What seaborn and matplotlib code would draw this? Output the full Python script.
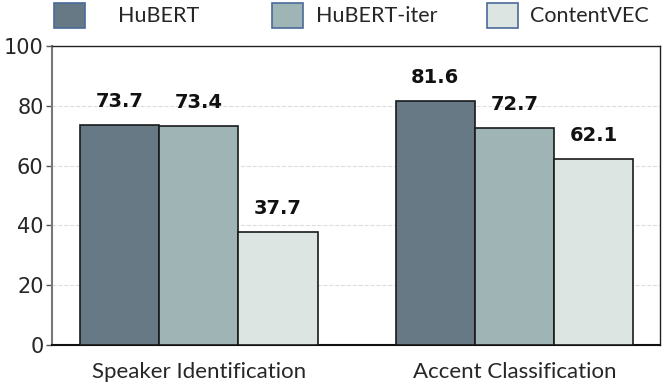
import pandas as pd
import seaborn as sns
import matplotlib.pyplot as plt
from matplotlib.patches import Patch

# chart values
tasks = ['Speaker Identification', 'Accent Classification']
models = ['HuBERT', 'HuBERT-iter', 'ContentVEC']
hubert = [73.7, 81.6]
hubert_iter = [73.4, 72.7]
contentvec = [37.7, 62.1]
colors = ['#667985', '#9fb5b5', '#dde5e3']

rows = []
for m, vals in zip(models, [hubert, hubert_iter, contentvec]):
    for t, v in zip(tasks, vals):
        rows.append({'task': t, 'model': m, 'score': v})
df = pd.DataFrame(rows)

sns.set_style('white')
fig = plt.figure(figsize=(6.65, 3.86), dpi=100)
ax = fig.add_axes([0.078, 0.106, 0.914, 0.775])

sns.barplot(data=df, x='task', y='score', hue='model', hue_order=models,
            palette=colors, width=0.753, edgecolor='#1a1a1a', linewidth=1.2,
            saturation=1, ax=ax, legend=False, zorder=3)

for container in ax.containers:
    ax.bar_label(container, fmt='%.1f', padding=10, fontsize=14,
                 fontweight='bold', color='#111111')

ax.set_ylim(0, 100)
ax.set_xlim(-0.465, 1.46)
ax.set_yticks([0, 20, 40, 60, 80, 100])
ax.tick_params(axis='y', labelsize=15, length=4, width=1, color='#555555',
               direction='out', left=True, pad=2)
ax.tick_params(axis='x', length=0, pad=12)
for lbl in ax.get_xticklabels():
    lbl.set_fontfamily('Lato')
    lbl.set_fontsize(16)
ax.set_xlabel('')
ax.set_ylabel('')
ax.yaxis.grid(True, linestyle='--', color='#dddddd', linewidth=0.8, zorder=0)
for s in ['top', 'right']:
    ax.spines[s].set_color('#222222')
    ax.spines[s].set_linewidth(1.0)
ax.spines['left'].set_color('#777777')
ax.spines['left'].set_linewidth(1.5)
ax.spines['bottom'].set_color('#111111')
ax.spines['bottom'].set_linewidth(1.5)

# legend entries: one per model, placed at the reference positions
W, H = 665, 386
legend_x = [54, 272, 487]
text_pad = [1.55, 0.62, 0.58]
for c, m, x, tp in zip(colors, models, legend_x, text_pad):
    h = Patch(facecolor=c, edgecolor='#4a6a9a', linewidth=1.2)
    fig.legend([h], [m], loc='upper left', bbox_to_anchor=(x / W, 1 - 3 / H),
               frameon=False, prop={'family': 'Lato', 'size': 15.5},
               handlelength=1.42, handleheight=1.38, handletextpad=tp,
               borderpad=0, borderaxespad=0)

plt.savefig('out.png', dpi=100)
